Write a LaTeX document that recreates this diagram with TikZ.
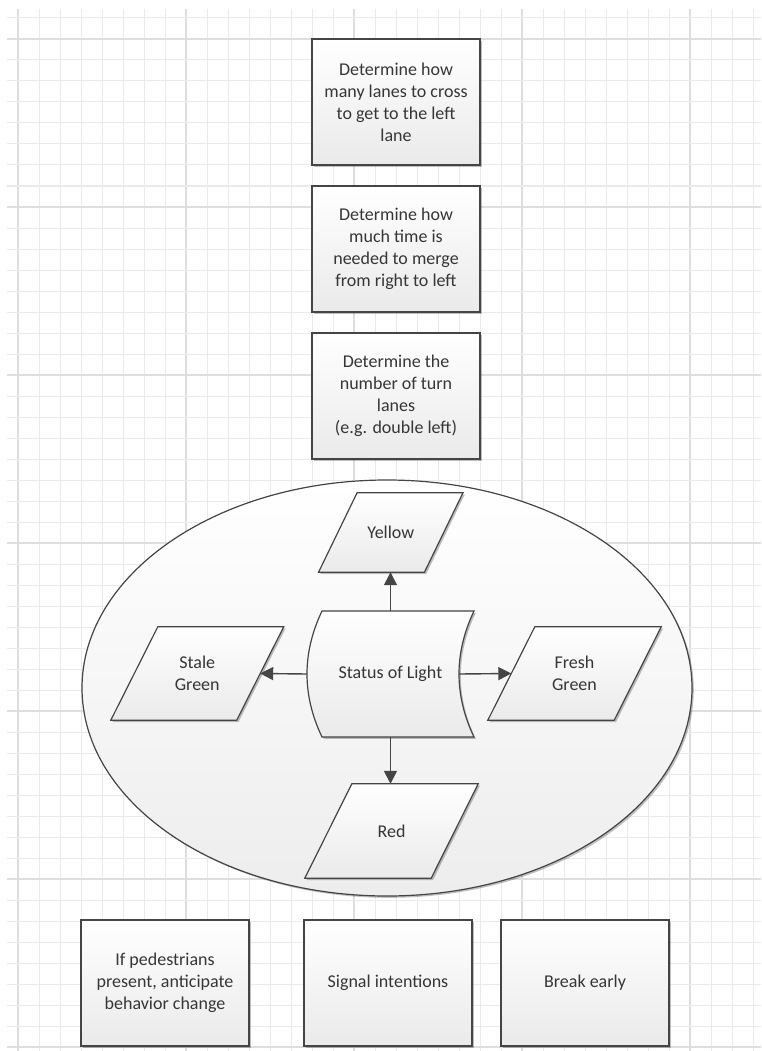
\documentclass[tikz,border=0pt]{standalone}
\usepackage{fontspec}
\setmainfont{Carlito}
\usetikzlibrary{shapes.geometric,arrows.meta,calc,shadows}
\definecolor{edge}{HTML}{454545}
\definecolor{txt}{HTML}{363636}
\definecolor{gmin}{HTML}{EAEAEA}
\definecolor{gmaj}{HTML}{DEDEDE}
\definecolor{fillb}{HTML}{EAEAEA}
\definecolor{ellb}{HTML}{EDEDED}
\pgfdeclarelayer{gridlayer}
\pgfdeclarelayer{bg}
\pgfsetlayers{gridlayer,bg,main}
\begin{document}
\begin{tikzpicture}[x=1pt,y=-1pt,
  shad/.style={drop shadow={shadow xshift=1.8pt,shadow yshift=-1.8pt,opacity=0.25,fill=black}},
  lbl/.style={align=center,text=txt,font=\fontsize{18}{22}\selectfont,inner sep=0pt},
  box/.style={lbl,draw=edge,line width=1.2pt,top color=white,bottom color=fillb,
    minimum width=168pt,minimum height=126pt,shad},
  pshape/.style={draw=none,minimum height=#1,inner sep=0pt},
  pfill/.style={draw=edge,line width=1.2pt,top color=white,bottom color=fillb,shad},
  arr/.style={draw=edge,line width=1.4pt,-{Triangle[length=13pt,width=13pt]}},
  mingrid/.style={gmin,line width=1pt},
  majgrid/.style={gmaj,line width=1.1pt}
]
\useasboundingbox (0,0) rectangle (761,1051);

% grid
\begin{pgfonlayer}{gridlayer}
\fill[white] (0,0) rectangle (761,1051);
\foreach \k in {0,...,35}{
  \pgfmathsetmacro\xx{18+21*\k}
  \pgfmathtruncatemacro\m{mod(\k,8)}
  \ifnum\m=0 \draw[majgrid] (\xx,9) -- (\xx,1051);
  \else \draw[mingrid] (\xx,9) -- (\xx,1051); \fi
}
\foreach \k in {0,...,49}{
  \pgfmathsetmacro\yy{18+21*\k}
  \pgfmathtruncatemacro\m{mod(\k+7,8)}
  \ifnum\m=0 \draw[majgrid] (7,\yy) -- (761,\yy);
  \else \draw[mingrid] (7,\yy) -- (761,\yy); \fi
}
\end{pgfonlayer}

% top boxes
\node[box] (b1) at (396,102) {Determine how\\many lanes to cross\\to get to the left\\lane};
\node[box] (b2) at (396,249) {Determine how\\much time is\\needed to merge\\from right to left};
\node[box] (b3) at (396,396) {Determine the\\number of turn\\lanes\\(e.g. double left)};

% bottom boxes
\node[box] (p1) at (165,983) {If pedestrians\\present, anticipate\\behavior change};
\node[box] (p2) at (388,983) {Signal intentions};
\node[box] (p3) at (585,983) {Break early};

% group ellipse
\begin{pgfonlayer}{bg}
\node[ellipse,draw=edge,line width=1.2pt,top color=white,bottom color=ellb,
  minimum width=610pt,minimum height=416pt,inner sep=0pt,shad] (group) at (387,688) {};
\end{pgfonlayer}

% text nodes of shapes
\node[lbl,minimum width=167pt,minimum height=126pt] (status) at (390.5,674) {Status of Light};
\node[lbl,pshape=79pt,minimum width=105.5pt] (yellow) at (390.75,532.5) {Yellow};
\node[lbl,pshape=93pt,minimum width=125.5pt] (stale) at (197.25,673.5) {Stale\\Green};
\node[lbl,pshape=93pt,minimum width=126pt] (fresh) at (574.5,673.5) {Fresh\\Green};
\node[lbl,pshape=94pt,minimum width=126pt] (red) at (391.5,831) {Red};

\begin{pgfonlayer}{bg}
% status of light (stored-data like)
\draw[pfill] (322,611) -- (474,611) .. controls (454,653) and (454,695) .. (474,737)
  -- (322,737) .. controls (302,695) and (302,653) .. (322,611) -- cycle;
% parallelograms
\draw[pfill] ($(yellow.north west)+(19.25,0)$) -- ($(yellow.north east)+(19.25,0)$)
  -- ($(yellow.south east)+(-19.25,0)$) -- ($(yellow.south west)+(-19.25,0)$) -- cycle;
\draw[pfill] ($(stale.north west)+(23.5,0)$) -- ($(stale.north east)+(23.5,0)$)
  -- ($(stale.south east)+(-23.5,0)$) -- ($(stale.south west)+(-23.5,0)$) -- cycle;
\draw[pfill] ($(fresh.north west)+(23.5,0)$) -- ($(fresh.north east)+(23.5,0)$)
  -- ($(fresh.south east)+(-23.5,0)$) -- ($(fresh.south west)+(-23.5,0)$) -- cycle;
\draw[pfill] ($(red.north west)+(23.5,0)$) -- ($(red.north east)+(23.5,0)$)
  -- ($(red.south east)+(-23.5,0)$) -- ($(red.south west)+(-23.5,0)$) -- cycle;
\end{pgfonlayer}

% connectors
\coordinate (sL) at (307,674);
\coordinate (sR) at (459,674);
\draw[arr] (status.north) -- (status.north |- yellow.south);
\draw[arr] (status.south) -- (status.south |- red.north);
\draw[arr] (sL) -- (stale.east);
\draw[arr] (sR) -- (fresh.west);
\end{tikzpicture}
\end{document}
